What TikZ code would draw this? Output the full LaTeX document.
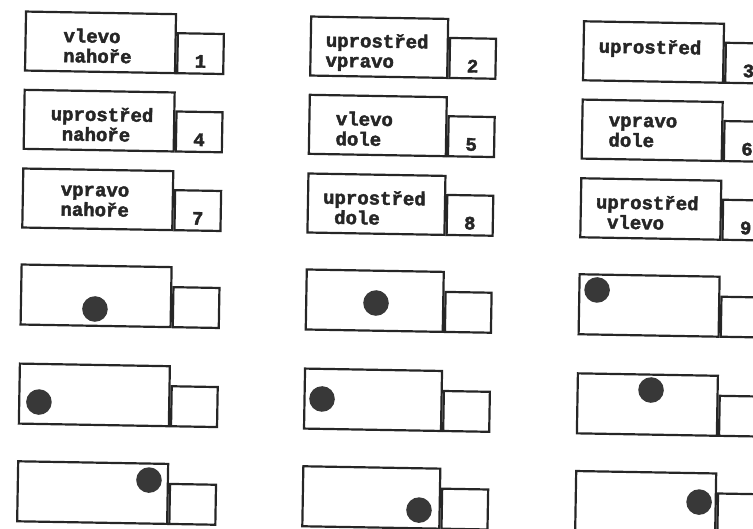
\documentclass[tikz,border=0pt]{standalone}
\usepackage{fontspec}
\setmonofont{Liberation Mono}[BoldFeatures={FakeBold=2.2}]
\usetikzlibrary{calc}
\definecolor{Ink}{HTML}{262626}
\definecolor{SpotGray}{HTML}{383838}
\newcommand{\onechar}{\hphantom{x}}

\begin{document}
\begin{tikzpicture}[x=1pt, y=1pt,
  slotbox/.style={draw=Ink, line width=2.2pt, anchor=north west, inner sep=0pt,
    minimum height=59pt},
  tabbox/.style={draw=Ink, line width=2.2pt, anchor=south west, inner sep=0pt,
    minimum width=46pt, minimum height=40pt},
  slottext/.style={anchor=north west, inner sep=0pt, align=left, text=Ink,
    font=\ttfamily\bfseries\fontsize{19}{20}\selectfont,
    execute at begin node={\rule{0pt}{15pt}}},
  slotnum/.style={anchor=base, inner sep=0pt, text=Ink,
    font=\ttfamily\bfseries\fontsize{19}{20}\selectfont},
  spot/.style={circle, fill=SpotGray, inner sep=0pt, minimum size=25.6pt}]
  % page, centred on the turning point of the scan
  \useasboundingbox (-376,-264) rectangle (377,264);
  \clip (-376,-264) rectangle (377,264);

  \begin{scope}[rotate=-1, transform shape]
  % The nine named positions.
  \node[slotbox, minimum width=150pt] (b1) at (-355.4,247.4) {};
  \node[tabbox] (s1) at (b1.south east) {};
  \node[slottext] (t1) at ($(b1.north west)+(16,-17)$) {\onechar\onechar vlevo\\\onechar\onechar nahoře};
  \node[slotnum] (n1) at ($(s1.south)+(0,7)$) {1};

  \node[slotbox, minimum width=137pt] (b2) at (-70.2,247.4) {};
  \node[tabbox] (s2) at (b2.south east) {};
  \node[slottext] (t2) at ($(b2.north west)+(16,-17)$) {uprostřed\\vpravo};
  \node[slotnum] (n2) at ($(s2.south)+(0,7)$) {2};

  \node[slotbox, minimum width=140pt] (b3) at (202.7,247.4) {};
  \node[tabbox] (s3) at (b3.south east) {};
  \node[slottext] (t3) at ($(b3.north west)+(16,-17)$) {uprostřed};
  \node[slotnum] (n3) at ($(s3.south)+(0,7)$) {3};

  \node[slotbox, minimum width=150pt] (b4) at (-355.4,169.1) {};
  \node[tabbox] (s4) at (b4.south east) {};
  \node[slottext] (t4) at ($(b4.north west)+(16,-17)$) {\onechar uprostřed\\\onechar\onechar nahoře};
  \node[slotnum] (n4) at ($(s4.south)+(0,7)$) {4};

  \node[slotbox, minimum width=137pt] (b5) at (-70.2,169.1) {};
  \node[tabbox] (s5) at (b5.south east) {};
  \node[slottext] (t5) at ($(b5.north west)+(16,-17)$) {\onechar vlevo\\\onechar dole};
  \node[slotnum] (n5) at ($(s5.south)+(0,7)$) {5};

  \node[slotbox, minimum width=140pt] (b6) at (202.7,169.1) {};
  \node[tabbox] (s6) at (b6.south east) {};
  \node[slottext] (t6) at ($(b6.north west)+(16,-17)$) {\onechar vpravo\\\onechar dole};
  \node[slotnum] (n6) at ($(s6.south)+(0,7)$) {6};

  \node[slotbox, minimum width=150pt] (b7) at (-355.4,90.4) {};
  \node[tabbox] (s7) at (b7.south east) {};
  \node[slottext] (t7) at ($(b7.north west)+(16,-17)$) {\onechar\onechar vpravo\\\onechar\onechar nahoře};
  \node[slotnum] (n7) at ($(s7.south)+(0,7)$) {7};

  \node[slotbox, minimum width=137pt] (b8) at (-70.2,90.4) {};
  \node[tabbox] (s8) at (b8.south east) {};
  \node[slottext] (t8) at ($(b8.north west)+(16,-17)$) {uprostřed\\\onechar dole};
  \node[slotnum] (n8) at ($(s8.south)+(0,7)$) {8};

  \node[slotbox, minimum width=140pt] (b9) at (202.7,90.4) {};
  \node[tabbox] (s9) at (b9.south east) {};
  \node[slottext] (t9) at ($(b9.north west)+(16,-17)$) {uprostřed\\\onechar vlevo};
  \node[slotnum] (n9) at ($(s9.south)+(0,7)$) {9};

  % Examples with the spot placed.
  \node[slotbox, minimum width=150pt, minimum height=60pt] (f1) at (-355.4,-5.6) {};
  \node[tabbox] (g1) at (f1.south east) {};
  \node[spot] (d1) at ($(f1.north west)+(75.2,-44.3)$) {};

  \node[slotbox, minimum width=137pt, minimum height=60pt] (f2) at (-70.2,-5.6) {};
  \node[tabbox] (g2) at (f2.south east) {};
  \node[spot] (d2) at ($(f2.north west)+(70.9,-33.4)$) {};

  \node[slotbox, minimum width=140pt, minimum height=60pt] (f3) at (202.7,-5.6) {};
  \node[tabbox] (g3) at (f3.south east) {};
  \node[spot] (d3) at ($(f3.north west)+(18.8,-16.5)$) {};

  \node[slotbox, minimum width=150pt, minimum height=60pt] (f4) at (-355.4,-104.7) {};
  \node[tabbox] (g4) at (f4.south east) {};
  \node[spot] (d4) at ($(f4.north west)+(20.8,-39.2)$) {};

  \node[slotbox, minimum width=137pt, minimum height=60pt] (f5) at (-70.2,-104.7) {};
  \node[tabbox] (g5) at (f5.south east) {};
  \node[spot] (d5) at ($(f5.north west)+(18.6,-31.2)$) {};

  \node[slotbox, minimum width=140pt, minimum height=60pt] (f6) at (202.7,-104.7) {};
  \node[tabbox] (g6) at (f6.south east) {};
  \node[spot] (d6) at ($(f6.north west)+(74.5,-16.5)$) {};

  \node[slotbox, minimum width=150pt, minimum height=60pt] (f7) at (-355.4,-202.4) {};
  \node[tabbox] (g7) at (f7.south east) {};
  \node[spot] (d7) at ($(f7.north west)+(132.2,-17.6)$) {};

  \node[slotbox, minimum width=137pt, minimum height=60pt] (f8) at (-70.2,-202.4) {};
  \node[tabbox] (g8) at (f8.south east) {};
  \node[spot] (d8) at ($(f8.north west)+(117.5,-42.9)$) {};

  \node[slotbox, minimum width=140pt, minimum height=60pt] (f9) at (202.7,-202.4) {};
  \node[tabbox] (g9) at (f9.south east) {};
  \node[spot] (d9) at ($(f9.north west)+(124.5,-30)$) {};
  \end{scope}
\end{tikzpicture}
\end{document}
